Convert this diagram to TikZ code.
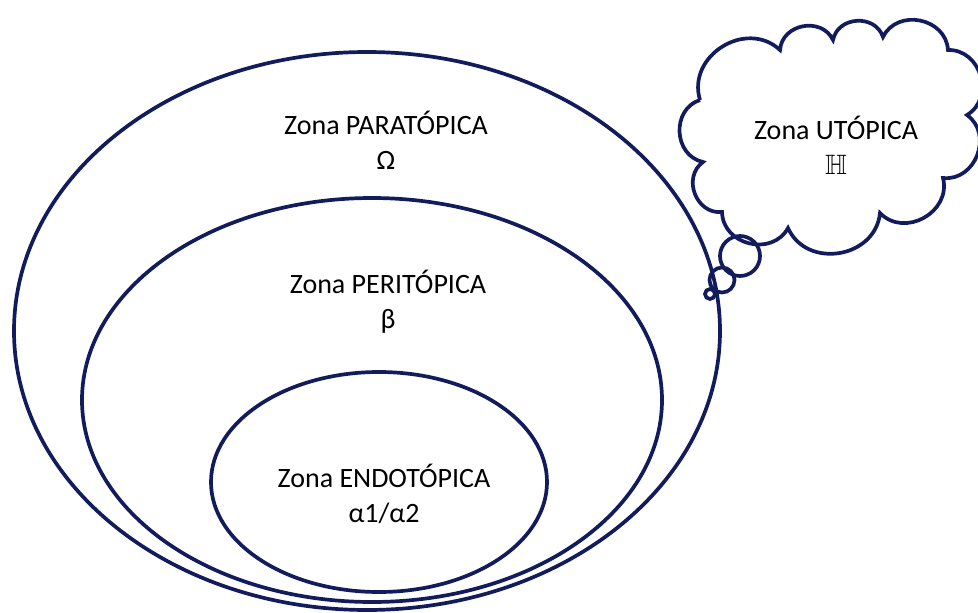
\documentclass[tikz,border=0pt]{standalone}
\usepackage{amssymb}
\usepackage{fontspec}
\setmainfont{Carlito}
\usepackage{xcolor}
\usepackage{tikz}
\definecolor{navy}{RGB}{18,28,92}

\begin{document}
\begin{tikzpicture}[x=1pt,y=-1pt]
        \tikzset{zone/.style={navy, line width=3.7pt},
                 puff/.style={bend left=75, looseness=1.25},
                 zonetext/.style={align=center, font=\fontsize{28}{35}\selectfont}}
        \useasboundingbox (0,0) rectangle (978,613);
        \draw[zone] (367,331) ellipse (353 and 279);
        \draw[zone] (372,400) ellipse (290 and 202);
        \draw[zone] (379,482) ellipse (168 and 110);
        \draw[zone] (700,100) to[puff] (780,50) to[puff] (833,40)
            to[puff] (883,37) to[puff] (948,50) to[puff] (967,115)
            to[puff] (943,178) to[puff] (880,213) to[puff] (788,228)
            to[puff] (722,212) to[puff] (703,162) to[puff] (700,100);
        \draw[zone] (740,256) circle (20);
        \draw[zone] (722,280) circle (12.5);
        \draw[zone] (710,294) circle (5);
        \node[zonetext] (para) at (386,140) {Zona PARATÓPICA\\Ω};
        \node[zonetext] (peri) at (388,302) {Zona PERITÓPICA\\β};
        \node[zonetext] (endo) at (384,494) {Zona ENDOTÓPICA\\α1/α2};
        \node[zonetext] (uto) at (836,145) {Zona UTÓPICA\\$\mathbb{H}$};
    \end{tikzpicture}
\end{document}
